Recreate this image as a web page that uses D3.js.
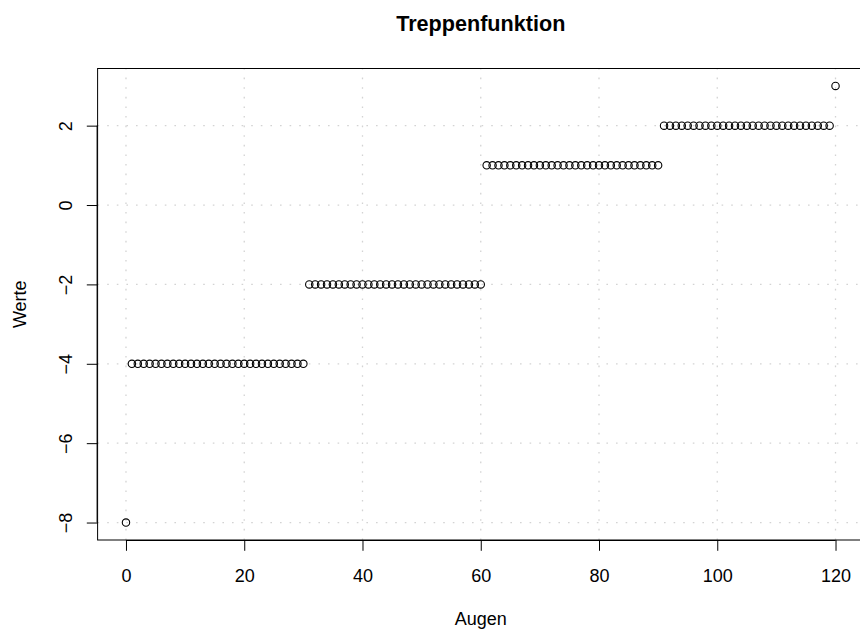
<!DOCTYPE html>
<html>
<head>
<meta charset="utf-8">
<script src="https://cdn.jsdelivr.net/npm/d3@7"></script>
<style>
  html, body { margin: 0; padding: 0; background: #ffffff; }
  svg { display: block; font-family: "Liberation Sans", Arial, Helvetica, sans-serif; }
</style>
</head>
<body>
<svg id="chart" width="860" height="629"></svg>
<script>
// ---- data ----
const chartTitle = "Treppenfunktion";
const xLabel = "Augen";
const yLabel = "Werte";

const augen = [
  0, 1, 2, 3, 4, 5, 6, 7, 8, 9, 10, 11, 12, 13, 14, 15, 16, 17, 18, 19, 20,
  21, 22, 23, 24, 25, 26, 27, 28, 29, 30, 31, 32, 33, 34, 35, 36, 37, 38, 39, 40,
  41, 42, 43, 44, 45, 46, 47, 48, 49, 50, 51, 52, 53, 54, 55, 56, 57, 58, 59, 60,
  61, 62, 63, 64, 65, 66, 67, 68, 69, 70, 71, 72, 73, 74, 75, 76, 77, 78, 79, 80,
  81, 82, 83, 84, 85, 86, 87, 88, 89, 90, 91, 92, 93, 94, 95, 96, 97, 98, 99, 100,
  101, 102, 103, 104, 105, 106, 107, 108, 109, 110, 111, 112, 113, 114, 115, 116, 117, 118, 119, 120
];

const werte = [
  -8,
  -4, -4, -4, -4, -4, -4, -4, -4, -4, -4, -4, -4, -4, -4, -4,
  -4, -4, -4, -4, -4, -4, -4, -4, -4, -4, -4, -4, -4, -4, -4,
  -2, -2, -2, -2, -2, -2, -2, -2, -2, -2, -2, -2, -2, -2, -2,
  -2, -2, -2, -2, -2, -2, -2, -2, -2, -2, -2, -2, -2, -2, -2,
  1, 1, 1, 1, 1, 1, 1, 1, 1, 1, 1, 1, 1, 1, 1,
  1, 1, 1, 1, 1, 1, 1, 1, 1, 1, 1, 1, 1, 1, 1,
  2, 2, 2, 2, 2, 2, 2, 2, 2, 2, 2, 2, 2, 2, 2,
  2, 2, 2, 2, 2, 2, 2, 2, 2, 2, 2, 2, 2, 2,
  3
];

const xTicks = [0, 20, 40, 60, 80, 100, 120];
const yTicks = [-8, -6, -4, -2, 0, 2];

// ---- layout ----
const svg = d3.select("#chart");
const plot = { left: 97.6, right: 863.9, top: 68.5, bottom: 540 };

const x = d3.scaleLinear().domain([-4.8, 124.8]).range([plot.left, plot.right]);
const y = d3.scaleLinear().domain([-8.44, 3.44]).range([plot.bottom, plot.top]);

const fontSize = 18;
const tickLen = 10.8;

// grid
const grid = svg.append("g").attr("class", "grid")
  .attr("stroke", "#d3d3d3").attr("stroke-width", 1.3)
  .attr("stroke-dasharray", "1.6,8").attr("fill", "none");

grid.selectAll("line.v").data(xTicks).join("line").attr("class", "v")
  .attr("x1", d => x(d)).attr("x2", d => x(d))
  .attr("y1", plot.bottom).attr("y2", plot.top);

grid.selectAll("line.h").data(yTicks).join("line").attr("class", "h")
  .attr("x1", plot.left).attr("x2", plot.right)
  .attr("y1", d => y(d)).attr("y2", d => y(d));

// points
svg.append("g").attr("class", "points")
  .selectAll("circle").data(augen).join("circle")
  .attr("cx", (d, i) => x(d))
  .attr("cy", (d, i) => y(werte[i]))
  .attr("r", 3.7)
  .attr("fill", "none")
  .attr("stroke", "#000")
  .attr("stroke-width", 1.1);

// box
svg.append("rect")
  .attr("x", plot.left).attr("y", plot.top)
  .attr("width", plot.right - plot.left).attr("height", plot.bottom - plot.top)
  .attr("fill", "none").attr("stroke", "#000").attr("stroke-width", 1);

// x axis
const xAxis = d3.axisBottom(x).tickValues(xTicks).tickSize(tickLen).tickPadding(0)
  .tickFormat(d3.format("d"));
const gx = svg.append("g").attr("transform", `translate(0,${plot.bottom})`).call(xAxis);
gx.select(".domain").attr("d", `M${x(xTicks[0])},0.5H${x(xTicks[xTicks.length - 1])}`)
  .attr("stroke", "#000");
gx.selectAll(".tick line").attr("stroke", "#000");
gx.selectAll(".tick text")
  .attr("font-family", "'Liberation Sans', Arial, Helvetica, sans-serif")
  .attr("font-size", fontSize).attr("fill", "#000")
  .attr("dy", null).attr("y", 42);

// y axis
const yAxis = d3.axisLeft(y).tickValues(yTicks).tickSize(tickLen).tickPadding(0)
  .tickFormat(d => d < 0 ? "\u2212" + Math.abs(d) : String(d));
const gy = svg.append("g").attr("transform", `translate(${plot.left},0)`).call(yAxis);
gy.select(".domain").attr("d", `M-0.5,${y(yTicks[0])}V${y(yTicks[yTicks.length - 1])}`)
  .attr("stroke", "#000");
gy.selectAll(".tick line").attr("stroke", "#000");
gy.selectAll(".tick text")
  .attr("font-family", "'Liberation Sans', Arial, Helvetica, sans-serif")
  .attr("font-size", fontSize).attr("fill", "#000")
  .attr("x", null).attr("dy", null)
  .attr("text-anchor", "middle")
  .attr("transform", "translate(-25.6,0) rotate(-90)");

// title
svg.append("text")
  .attr("x", (plot.left + plot.right) / 2).attr("y", 30.5)
  .attr("text-anchor", "middle")
  .attr("font-size", 21.6).attr("font-weight", "bold")
  .attr("fill", "#000")
  .text(chartTitle);

// x label
svg.append("text")
  .attr("x", (plot.left + plot.right) / 2).attr("y", 624.5)
  .attr("text-anchor", "middle")
  .attr("font-size", fontSize).attr("fill", "#000")
  .text(xLabel);

// y label
svg.append("text")
  .attr("transform", `translate(25.5,${(plot.top + plot.bottom) / 2}) rotate(-90)`)
  .attr("text-anchor", "middle")
  .attr("font-size", fontSize).attr("fill", "#000")
  .text(yLabel);
</script>
</body>
</html>
